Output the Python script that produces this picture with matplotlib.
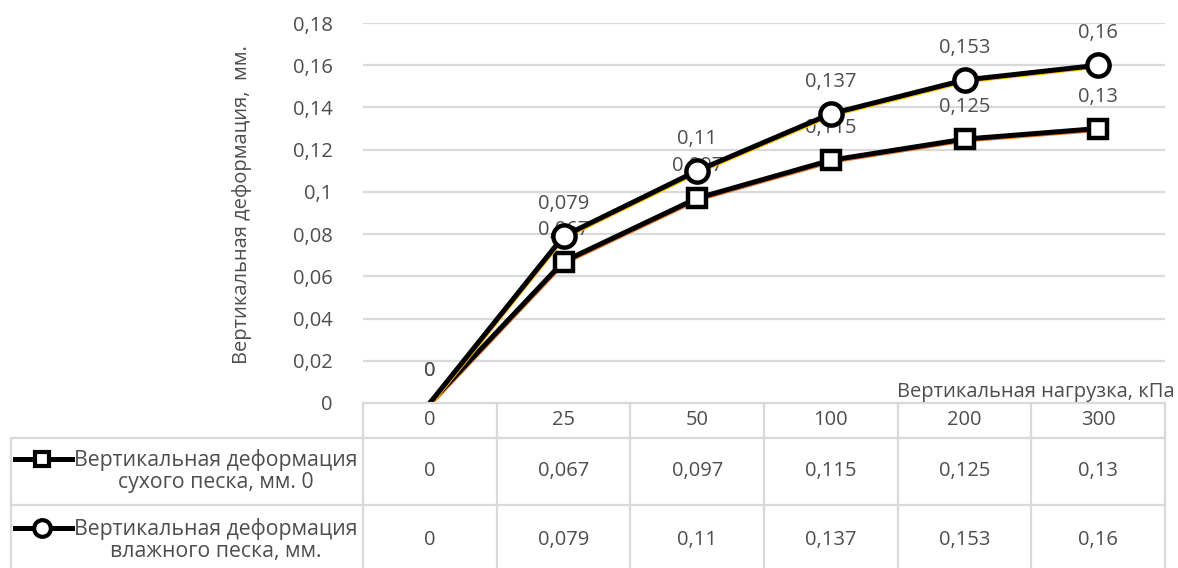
import matplotlib
matplotlib.use("Agg")
import matplotlib.pyplot as plt
from matplotlib.lines import Line2D
from matplotlib.transforms import blended_transform_factory, offset_copy

plt.rcParams["font.family"] = ["Open Sans", "DejaVu Sans"]

loads = ["0", "25", "50", "100", "200", "300"]
dry = [0, 0.067, 0.097, 0.115, 0.125, 0.13]
wet = [0, 0.079, 0.11, 0.137, 0.153, 0.16]
dry_name = "Вертикальная деформация\nсухого песка, мм. 0"
wet_name = "Вертикальная деформация\nвлажного песка, мм."
y_title = "Вертикальная деформация,  мм."
x_title = "Вертикальная нагрузка, кПа"

W, H = 1178, 568
TXT = "#4d4d4d"
GRID = "#d9d9d9"
FS = 14.5


def fx(px):
    return px / W


def fy(py):
    return 1 - py / H


def fmt(v):
    return f"{v:g}".replace(".", ",")


fig = plt.figure(figsize=(W / 100, H / 100), dpi=100)
ax = fig.add_axes([fx(363), fy(403), (1165 - 363) / W, (403 - 23) / H])
ax.set_xlim(-0.5, len(loads) - 0.5)
ax.set_ylim(0, 0.18)

yt = [i * 0.02 for i in range(10)]
ax.set_yticks(yt)
ax.set_yticklabels([fmt(round(v, 2)) for v in yt], color=TXT, fontsize=FS)
ax.tick_params(axis="y", length=0, pad=22)
ax.set_xticks([])
for s in ax.spines.values():
    s.set_visible(False)
for v in yt[1:]:
    ax.axhline(v, color=GRID, lw=1.6, zorder=0)

x = list(range(len(loads)))
shift = offset_copy(ax.transData, fig=fig, x=1, y=-2, units="dots")
marked = list(range(1, len(loads)))

# dry sand: thin orange line underneath a thick black one
ax.plot(x, dry, color="#ED7D31", lw=2, transform=shift, zorder=2)
ax.plot(x, dry, color="black", lw=3.6, zorder=3, solid_capstyle="round",
        marker="s", markevery=marked, ms=13, mfc="white", mec="black", mew=3.2)
for xi, v in zip(x, dry):
    ax.annotate(fmt(v), (xi, v), xytext=(0, 23), textcoords="offset points",
                ha="center", va="center", color=TXT, fontsize=FS, zorder=4)

# wet sand drawn over the dry labels
ax.plot(x, wet, color="#FFC000", lw=2, transform=shift, zorder=5)
ax.plot(x, wet, color="black", lw=3.6, zorder=6, solid_capstyle="round",
        marker="o", markevery=marked, ms=16, mfc="white", mec="black", mew=3.2)
for xi, v in zip(x, wet):
    ax.annotate(fmt(v), (xi, v), xytext=(0, 23), textcoords="offset points",
                ha="center", va="center", color=TXT, fontsize=FS, zorder=7)

fig.text(fx(242), fy(205), y_title, rotation=90, ha="center", va="center",
         color=TXT, fontsize=FS)
fig.text(fx(1175), fy(392), x_title, ha="right", va="center",
         color=TXT, fontsize=FS)

# data table under the plot
tf = fig.transFigure
line_kw = dict(color=GRID, lw=1.6, transform=tf, clip_on=False)
fig.add_artist(Line2D([fx(363), fx(1165)], [fy(403), fy(403)], **line_kw))
for yy in (438, 505):
    fig.add_artist(Line2D([fx(11), fx(1165)], [fy(yy), fy(yy)], **line_kw))
fig.add_artist(Line2D([fx(11), fx(11)], [fy(438), fy(568)], **line_kw))
bx = blended_transform_factory(ax.transData, tf)
for b in [i - 0.5 for i in range(len(loads) + 1)]:
    fig.add_artist(Line2D([b, b], [fy(403), fy(568)], color=GRID, lw=1.6,
                          transform=bx, clip_on=False))

for xi, lab, dv, wv in zip(x, loads, dry, wet):
    fig.text(xi, fy(420), lab, transform=bx, ha="center", va="center",
             color=TXT, fontsize=FS)
    fig.text(xi, fy(471), fmt(dv), transform=bx, ha="center", va="center",
             color=TXT, fontsize=FS)
    fig.text(xi, fy(540), fmt(wv), transform=bx, ha="center", va="center",
             color=TXT, fontsize=FS)

fig.text(fx(216), fy(471), dry_name, ha="center", va="center", color=TXT,
         fontsize=15.3, linespacing=1.1)
fig.text(fx(216), fy(540), wet_name, ha="center", va="center", color=TXT,
         fontsize=15.3, linespacing=1.1)

# legend keys inside the table
fig.add_artist(Line2D([fx(15), fx(72)], [fy(459), fy(459)], color="black", lw=3.6,
                      transform=tf))
fig.add_artist(Line2D([fx(42)], [fy(459)], color="black", marker="s", ms=10,
                      mfc="white", mew=3, transform=tf))
fig.add_artist(Line2D([fx(15), fx(72)], [fy(528), fy(528)], color="black", lw=3.6,
                      transform=tf))
fig.add_artist(Line2D([fx(42)], [fy(528)], color="black", marker="o", ms=12,
                      mfc="white", mew=3, transform=tf))

fig.savefig("out.png", dpi=100, facecolor="white")
